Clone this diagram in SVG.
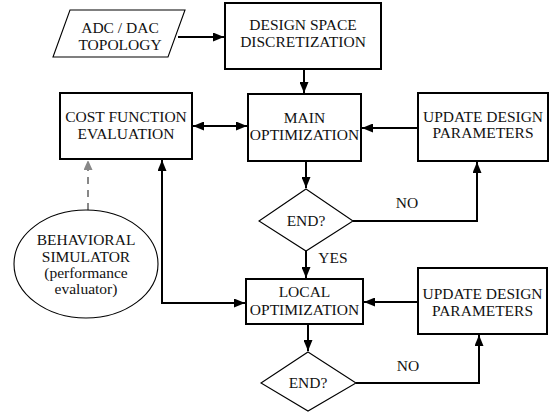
<svg xmlns="http://www.w3.org/2000/svg" width="550" height="412" viewBox="0 0 550 412" font-family="Times New Roman" font-size="15.5">
<defs>
<marker id="ah" markerUnits="userSpaceOnUse" markerWidth="11" markerHeight="9" refX="11" refY="4.5" orient="auto-start-reverse"><path d="M0,0 L11,4.5 L0,9 z" fill="#000"/></marker>
<marker id="ahg" markerUnits="userSpaceOnUse" markerWidth="9" markerHeight="9" refX="10" refY="4.5" orient="auto"><path d="M0,0 L10,4.5 L0,9 z" fill="#888"/></marker>
</defs>
<g id="connectors" fill="none" stroke="#000" stroke-width="2">
<line x1="178" y1="37" x2="224" y2="37" marker-end="url(#ah)"/>
<line x1="304" y1="69" x2="304" y2="93" marker-end="url(#ah)"/>
<line x1="193" y1="126" x2="247" y2="126" marker-start="url(#ah)" marker-end="url(#ah)"/>
<line x1="418" y1="128" x2="362" y2="128" marker-end="url(#ah)"/>
<line x1="306" y1="161" x2="306" y2="188" marker-end="url(#ah)"/>
<polyline points="353,221 477,221 477,162" marker-end="url(#ah)"/>
<line x1="306" y1="251" x2="306" y2="278" marker-end="url(#ah)"/>
<polyline points="162,160 162,303 245,303" marker-start="url(#ah)" marker-end="url(#ah)"/>
<line x1="418" y1="302" x2="364" y2="302" marker-end="url(#ah)"/>
<line x1="308" y1="324" x2="308" y2="351" marker-end="url(#ah)"/>
<polyline points="356,383 479,383 479,335" marker-end="url(#ah)"/>
<line x1="88" y1="210" x2="88" y2="160" stroke="#888" stroke-dasharray="7,6" marker-end="url(#ahg)"/>
</g>
<g id="labels" fill="#111" text-anchor="middle">
<text x="407" y="208">NO</text>
<text x="408" y="371">NO</text>
<text x="333" y="263">YES</text>
</g>
<g id="topology" text-anchor="middle">
<polygon points="70,10 185,10 168,57 53,57" fill="#fff" stroke="#000" stroke-width="1.1"/>
<text x="120" y="33" fill="#111">ADC / DAC</text>
<text x="120" y="50" fill="#111">TOPOLOGY</text>
</g>
<g id="design-space" text-anchor="middle">
<rect x="225" y="3" width="156" height="66" fill="#fff" stroke="#000" stroke-width="2"/>
<text x="303" y="30" fill="#111">DESIGN SPACE</text>
<text x="303" y="47" fill="#111">DISCRETIZATION</text>
</g>
<g id="cost-function" text-anchor="middle">
<rect x="60" y="93" width="132" height="66" fill="#fff" stroke="#000" stroke-width="2"/>
<text x="126" y="122" fill="#111">COST FUNCTION</text>
<text x="126" y="139" fill="#111">EVALUATION</text>
</g>
<g id="main-opt" text-anchor="middle">
<rect x="248" y="94" width="113" height="67" fill="#fff" stroke="#000" stroke-width="2"/>
<text x="304.5" y="123" fill="#111">MAIN</text>
<text x="304.5" y="140" fill="#111">OPTIMIZATION</text>
</g>
<g id="update1" text-anchor="middle">
<rect x="418" y="93" width="130" height="68" fill="#fff" stroke="#000" stroke-width="2"/>
<text x="483" y="122" fill="#111">UPDATE DESIGN</text>
<text x="483" y="138" fill="#111">PARAMETERS</text>
</g>
<g id="end1" text-anchor="middle">
<polygon points="306,189 353,221 306,251 259,221" fill="#fff" stroke="#000" stroke-width="1.1"/>
<text x="306" y="226" fill="#111">END?</text>
</g>
<g id="simulator" text-anchor="middle">
<ellipse cx="86" cy="264" rx="72" ry="54" fill="#fff" stroke="#000" stroke-width="1.1"/>
<text x="86" y="245" fill="#111">BEHAVIORAL</text>
<text x="86" y="262" fill="#111">SIMULATOR</text>
<text x="86" y="278" fill="#111">(performance</text>
<text x="86" y="294" fill="#111">evaluator)</text>
</g>
<g id="local-opt" text-anchor="middle">
<rect x="246" y="279" width="117" height="45" fill="#fff" stroke="#000" stroke-width="2"/>
<text x="304.5" y="297" fill="#111">LOCAL</text>
<text x="304.5" y="315" fill="#111">OPTIMIZATION</text>
</g>
<g id="update2" text-anchor="middle">
<rect x="418" y="268" width="129" height="66" fill="#fff" stroke="#000" stroke-width="2"/>
<text x="482.5" y="299" fill="#111">UPDATE DESIGN</text>
<text x="482.5" y="316" fill="#111">PARAMETERS</text>
</g>
<g id="end2" text-anchor="middle">
<polygon points="308,352 356,383 308,411 261,383" fill="#fff" stroke="#000" stroke-width="1.1"/>
<text x="308" y="388" fill="#111">END?</text>
</g>
</svg>
